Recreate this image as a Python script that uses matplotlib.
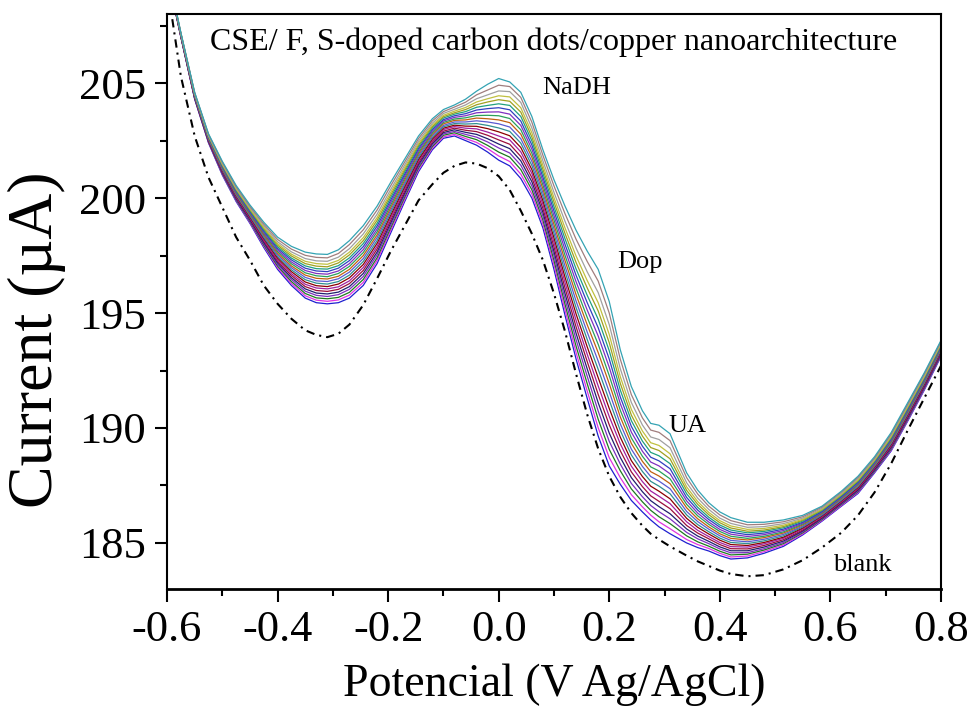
import matplotlib
matplotlib.use("Agg")
import matplotlib.pyplot as plt
from matplotlib.ticker import MultipleLocator

plt.rcParams['font.family'] = ['Liberation Serif', 'DejaVu Serif']
plt.rcParams['axes.unicode_minus'] = False

# potential grid (V vs Ag/AgCl)
potential = [-0.600, -0.575, -0.550, -0.525, -0.500, -0.475, -0.450, -0.425, -0.400, -0.375,
             -0.350, -0.330, -0.310, -0.290, -0.270, -0.245, -0.220, -0.195, -0.170, -0.145,
             -0.120, -0.100, -0.080, -0.060, -0.040, -0.020, 0.000, 0.020, 0.040, 0.060,
             0.080, 0.100, 0.120, 0.140, 0.160, 0.180, 0.200, 0.220, 0.240, 0.260,
             0.275, 0.290, 0.310, 0.340, 0.360, 0.380, 0.400, 0.420, 0.450, 0.480,
             0.515, 0.550, 0.585, 0.620, 0.650, 0.680, 0.710, 0.740, 0.770, 0.800]

# blank (dash-dot)
blank = [209.3, 205.3, 202.7, 200.9, 199.6, 198.3, 197.3, 196.2, 195.4, 194.75,
         194.25, 194.05, 193.95, 194.1, 194.5, 195.35, 196.5, 197.7, 198.8, 199.9,
         200.6, 201.1, 201.4, 201.55, 201.5, 201.3, 200.95, 200.35, 199.45, 198.45,
         197.3, 195.85, 194.2, 192.35, 190.6, 189.1, 187.9, 187.0, 186.3, 185.75,
         185.4, 185.15, 184.85, 184.45, 184.2, 184.0, 183.8, 183.65, 183.55, 183.6,
         183.85, 184.25, 184.8, 185.45, 186.2, 187.2, 188.45, 189.9, 191.3, 192.7]

# current after each addition, lowest to highest (uA)
c01 = [209.8, 207.0, 204.3, 202.4, 201.0, 199.85, 198.9, 197.85, 196.9, 196.2, 195.65, 195.45, 195.4, 195.45, 195.65, 196.2, 197.15, 198.5, 199.85, 201.15, 202.1, 202.6, 202.7, 202.5, 202.3, 202.0, 201.65, 201.4, 200.85, 200.0, 198.7, 196.9, 194.9, 193.0, 191.3, 189.65, 188.35, 187.55, 186.85, 186.35, 186.0, 185.7, 185.4, 185.0, 184.8, 184.65, 184.45, 184.3, 184.35, 184.55, 184.85, 185.35, 185.95, 186.6, 187.15, 188.05, 189.0, 190.3, 191.65, 193.1]
c02 = [209.81, 207.01, 204.32, 202.42, 201.03, 199.89, 198.94, 197.91, 196.97, 196.29, 195.75, 195.56, 195.51, 195.57, 195.78, 196.33, 197.28, 198.61, 199.94, 201.23, 202.17, 202.66, 202.77, 202.59, 202.42, 202.15, 201.83, 201.59, 201.04, 200.18, 198.87, 197.1, 195.14, 193.28, 191.62, 190.01, 188.71, 187.84, 187.1, 186.57, 186.21, 185.92, 185.62, 185.15, 184.93, 184.76, 184.55, 184.39, 184.43, 184.62, 184.91, 185.39, 185.98, 186.63, 187.19, 188.09, 189.04, 190.34, 191.69, 193.14]
c03 = [209.82, 207.02, 204.33, 202.44, 201.06, 199.92, 198.98, 197.96, 197.04, 196.37, 195.85, 195.66, 195.62, 195.68, 195.9, 196.46, 197.4, 198.72, 200.04, 201.31, 202.24, 202.73, 202.84, 202.68, 202.54, 202.29, 202.0, 201.78, 201.24, 200.36, 199.04, 197.29, 195.38, 193.56, 191.94, 190.38, 189.07, 188.14, 187.35, 186.79, 186.42, 186.14, 185.84, 185.31, 185.05, 184.86, 184.64, 184.48, 184.51, 184.69, 184.97, 185.44, 186.02, 186.67, 187.23, 188.12, 189.08, 190.38, 191.73, 193.17]
c04 = [209.83, 207.03, 204.35, 202.46, 201.09, 199.96, 199.02, 198.02, 197.11, 196.46, 195.95, 195.77, 195.72, 195.8, 196.03, 196.59, 197.53, 198.83, 200.13, 201.38, 202.3, 202.79, 202.9, 202.77, 202.65, 202.44, 202.18, 201.96, 201.43, 200.53, 199.21, 197.49, 195.61, 193.84, 192.26, 190.74, 189.42, 188.43, 187.59, 187.01, 186.63, 186.36, 186.05, 185.46, 185.18, 184.97, 184.74, 184.57, 184.58, 184.75, 185.02, 185.48, 186.05, 186.7, 187.26, 188.16, 189.12, 190.42, 191.76, 193.21]
c05 = [209.84, 207.04, 204.36, 202.48, 201.12, 199.99, 199.06, 198.07, 197.18, 196.54, 196.05, 195.87, 195.83, 195.91, 196.15, 196.72, 197.65, 198.94, 200.22, 201.46, 202.37, 202.85, 202.97, 202.86, 202.77, 202.58, 202.35, 202.15, 201.62, 200.71, 199.38, 197.68, 195.85, 194.12, 192.58, 191.1, 189.78, 188.72, 187.84, 187.23, 186.84, 186.58, 186.27, 185.61, 185.3, 185.07, 184.83, 184.66, 184.66, 184.82, 185.08, 185.52, 186.08, 186.73, 187.3, 188.19, 189.16, 190.46, 191.8, 193.24]
c06 = [209.85, 207.05, 204.38, 202.5, 201.15, 200.03, 199.1, 198.13, 197.25, 196.63, 196.15, 195.98, 195.94, 196.03, 196.28, 196.85, 197.78, 199.05, 200.31, 201.54, 202.44, 202.91, 203.04, 202.95, 202.89, 202.73, 202.53, 202.34, 201.81, 200.89, 199.55, 197.88, 196.09, 194.4, 192.9, 191.46, 190.14, 189.01, 188.09, 187.45, 187.05, 186.81, 186.49, 185.76, 185.43, 185.18, 184.93, 184.75, 184.74, 184.89, 185.14, 185.56, 186.11, 186.76, 187.34, 188.23, 189.2, 190.5, 191.84, 193.28]
c07 = [209.86, 207.06, 204.39, 202.52, 201.18, 200.06, 199.14, 198.18, 197.32, 196.71, 196.25, 196.09, 196.05, 196.14, 196.4, 196.98, 197.9, 199.16, 200.41, 201.62, 202.51, 202.98, 203.11, 203.04, 203.01, 202.87, 202.7, 202.53, 202.01, 201.07, 199.72, 198.07, 196.33, 194.68, 193.22, 191.83, 190.5, 189.31, 188.34, 187.67, 187.26, 187.03, 186.71, 185.92, 185.55, 185.28, 185.02, 184.84, 184.82, 184.96, 185.2, 185.61, 186.15, 186.8, 187.38, 188.26, 189.24, 190.54, 191.88, 193.31]
c08 = [209.87, 207.07, 204.41, 202.54, 201.21, 200.1, 199.18, 198.24, 197.39, 196.8, 196.35, 196.19, 196.15, 196.26, 196.53, 197.11, 198.03, 199.27, 200.5, 201.69, 202.57, 203.04, 203.17, 203.13, 203.12, 203.02, 202.88, 202.71, 202.2, 201.24, 199.89, 198.27, 196.56, 194.96, 193.54, 192.19, 190.85, 189.6, 188.58, 187.89, 187.47, 187.25, 186.92, 186.07, 185.68, 185.39, 185.12, 184.93, 184.89, 185.02, 185.25, 185.65, 186.18, 186.83, 187.41, 188.3, 189.28, 190.58, 191.91, 193.35]
c09 = [209.88, 207.08, 204.42, 202.56, 201.24, 200.13, 199.22, 198.29, 197.46, 196.88, 196.45, 196.3, 196.26, 196.37, 196.65, 197.24, 198.15, 199.38, 200.59, 201.77, 202.64, 203.1, 203.24, 203.22, 203.24, 203.16, 203.05, 202.9, 202.39, 201.42, 200.06, 198.46, 196.8, 195.24, 193.86, 192.55, 191.21, 189.89, 188.83, 188.11, 187.68, 187.47, 187.14, 186.22, 185.8, 185.49, 185.21, 185.02, 184.97, 185.09, 185.31, 185.69, 186.21, 186.86, 187.45, 188.33, 189.32, 190.62, 191.95, 193.38]
c10 = [209.89, 207.09, 204.44, 202.58, 201.27, 200.17, 199.26, 198.35, 197.53, 196.97, 196.55, 196.4, 196.37, 196.49, 196.78, 197.37, 198.28, 199.49, 200.68, 201.85, 202.71, 203.16, 203.31, 203.31, 203.36, 203.31, 203.23, 203.09, 202.58, 201.6, 200.23, 198.66, 197.04, 195.52, 194.18, 192.91, 191.57, 190.18, 189.08, 188.33, 187.89, 187.69, 187.36, 186.37, 185.93, 185.6, 185.31, 185.11, 185.05, 185.16, 185.37, 185.73, 186.24, 186.89, 187.49, 188.37, 189.36, 190.66, 191.99, 193.42]
c11 = [209.9, 207.1, 204.45, 202.6, 201.3, 200.2, 199.3, 198.4, 197.6, 197.05, 196.65, 196.51, 196.48, 196.6, 196.9, 197.5, 198.4, 199.6, 200.78, 201.93, 202.78, 203.23, 203.38, 203.4, 203.48, 203.45, 203.4, 203.28, 202.78, 201.78, 200.4, 198.85, 197.28, 195.8, 194.5, 193.28, 191.93, 190.48, 189.33, 188.55, 188.1, 187.91, 187.58, 186.53, 186.05, 185.7, 185.4, 185.2, 185.13, 185.23, 185.43, 185.78, 186.28, 186.93, 187.53, 188.4, 189.4, 190.7, 192.03, 193.45]
c12 = [209.91, 207.11, 204.47, 202.62, 201.33, 200.24, 199.34, 198.46, 197.67, 197.14, 196.75, 196.62, 196.58, 196.72, 197.03, 197.63, 198.53, 199.71, 200.87, 202.0, 202.84, 203.29, 203.44, 203.49, 203.59, 203.6, 203.58, 203.46, 202.97, 201.95, 200.57, 199.05, 197.51, 196.08, 194.82, 193.64, 192.28, 190.77, 189.57, 188.77, 188.31, 188.13, 187.79, 186.68, 186.18, 185.81, 185.5, 185.29, 185.2, 185.29, 185.48, 185.82, 186.31, 186.96, 187.56, 188.44, 189.44, 190.74, 192.06, 193.49]
c13 = [209.92, 207.12, 204.48, 202.64, 201.36, 200.27, 199.38, 198.51, 197.74, 197.22, 196.85, 196.72, 196.69, 196.83, 197.15, 197.76, 198.65, 199.82, 200.96, 202.08, 202.91, 203.35, 203.51, 203.58, 203.71, 203.74, 203.75, 203.65, 203.16, 202.13, 200.74, 199.24, 197.75, 196.36, 195.14, 194.0, 192.64, 191.06, 189.82, 188.99, 188.52, 188.35, 188.01, 186.83, 186.3, 185.91, 185.59, 185.38, 185.28, 185.36, 185.54, 185.86, 186.34, 186.99, 187.6, 188.47, 189.48, 190.78, 192.1, 193.52]
c14 = [209.93, 207.13, 204.5, 202.66, 201.39, 200.31, 199.42, 198.57, 197.81, 197.31, 196.95, 196.83, 196.8, 196.95, 197.28, 197.89, 198.78, 199.93, 201.05, 202.16, 202.98, 203.41, 203.58, 203.67, 203.83, 203.89, 203.93, 203.84, 203.35, 202.31, 200.91, 199.44, 197.99, 196.64, 195.46, 194.36, 193.0, 191.35, 190.07, 189.21, 188.73, 188.57, 188.23, 186.98, 186.43, 186.02, 185.69, 185.47, 185.36, 185.43, 185.6, 185.9, 186.37, 187.02, 187.64, 188.51, 189.52, 190.82, 192.14, 193.56]
c15 = [209.94, 207.14, 204.51, 202.68, 201.42, 200.34, 199.46, 198.62, 197.88, 197.39, 197.05, 196.93, 196.91, 197.06, 197.4, 198.02, 198.9, 200.04, 201.15, 202.24, 203.05, 203.48, 203.65, 203.76, 203.95, 204.03, 204.1, 204.03, 203.55, 202.49, 201.08, 199.63, 198.23, 196.92, 195.78, 194.73, 193.36, 191.65, 190.32, 189.43, 188.94, 188.79, 188.45, 187.14, 186.55, 186.12, 185.78, 185.56, 185.44, 185.5, 185.66, 185.95, 186.41, 187.06, 187.68, 188.54, 189.56, 190.86, 192.18, 193.59]
c16 = [209.95, 207.15, 204.53, 202.7, 201.45, 200.38, 199.5, 198.68, 197.95, 197.48, 197.15, 197.04, 197.01, 197.18, 197.53, 198.15, 199.03, 200.15, 201.24, 202.31, 203.11, 203.54, 203.71, 203.85, 204.06, 204.18, 204.28, 204.21, 203.74, 202.66, 201.25, 199.83, 198.46, 197.2, 196.1, 195.09, 193.71, 191.94, 190.56, 189.65, 189.15, 189.02, 188.66, 187.29, 186.68, 186.23, 185.88, 185.65, 185.51, 185.56, 185.71, 185.99, 186.44, 187.09, 187.71, 188.58, 189.6, 190.9, 192.21, 193.63]
c17 = [209.96, 207.16, 204.54, 202.72, 201.48, 200.41, 199.54, 198.73, 198.02, 197.56, 197.25, 197.15, 197.12, 197.29, 197.65, 198.28, 199.15, 200.26, 201.33, 202.39, 203.18, 203.6, 203.78, 203.94, 204.18, 204.32, 204.45, 204.4, 203.93, 202.84, 201.42, 200.02, 198.7, 197.48, 196.42, 195.45, 194.07, 192.23, 190.81, 189.87, 189.36, 189.24, 188.88, 187.44, 186.8, 186.33, 185.97, 185.74, 185.59, 185.63, 185.77, 186.03, 186.47, 187.12, 187.75, 188.61, 189.64, 190.94, 192.25, 193.66]
c18 = [209.97, 207.17, 204.56, 202.74, 201.52, 200.45, 199.59, 198.8, 198.1, 197.66, 197.37, 197.27, 197.25, 197.43, 197.8, 198.44, 199.3, 200.39, 201.44, 202.48, 203.26, 203.68, 203.86, 204.05, 204.32, 204.49, 204.66, 204.63, 204.16, 203.05, 201.62, 200.25, 198.99, 197.82, 196.8, 195.89, 194.5, 192.58, 191.11, 190.13, 189.61, 189.5, 189.14, 187.62, 186.95, 186.46, 186.08, 185.85, 185.68, 185.71, 185.84, 186.08, 186.51, 187.16, 187.8, 188.65, 189.69, 190.99, 192.3, 193.7]
c19 = [209.99, 207.19, 204.58, 202.77, 201.56, 200.5, 199.64, 198.87, 198.2, 197.78, 197.51, 197.42, 197.4, 197.59, 197.98, 198.62, 199.48, 200.55, 201.57, 202.59, 203.36, 203.76, 203.96, 204.17, 204.49, 204.7, 204.91, 204.85, 204.38, 203.3, 201.86, 200.53, 199.32, 198.21, 197.25, 196.39, 195.0, 192.99, 191.45, 190.44, 189.91, 189.81, 189.45, 187.84, 187.13, 186.6, 186.22, 185.97, 185.79, 185.81, 185.92, 186.14, 186.56, 187.21, 187.85, 188.7, 189.74, 191.04, 192.35, 193.75]
c20 = [210.0, 207.2, 204.6, 202.8, 201.6, 200.55, 199.7, 198.95, 198.3, 197.9, 197.65, 197.57, 197.55, 197.75, 198.15, 198.8, 199.65, 200.7, 201.7, 202.7, 203.45, 203.85, 204.05, 204.3, 204.65, 204.95, 205.2, 205.05, 204.6, 203.55, 202.1, 200.8, 199.65, 198.6, 197.7, 196.9, 195.5, 193.4, 191.8, 190.75, 190.2, 190.12, 189.75, 188.05, 187.3, 186.75, 186.35, 186.1, 185.9, 185.9, 186.0, 186.2, 186.6, 187.25, 187.9, 188.75, 189.8, 191.1, 192.4, 193.8]

curves = [c01, c02, c03, c04, c05, c06, c07, c08, c09, c10,
          c11, c12, c13, c14, c15, c16, c17, c18, c19, c20]
colors = ['#1f1fd0', '#e033e0', '#1e7a1e', '#7b2fbf', '#20206e', '#9a0f3c', '#a020a0',
          '#8b0000', '#2f8f8f', '#5a5ad0', '#c06010', '#2aa05a', '#8030c0', '#3040c0',
          '#20a080', '#a0a020', '#c0c040', '#a0a0a0', '#a07d7d', '#34a3b3']

fig = plt.figure(figsize=(9.74, 7.07), dpi=100)
ax = fig.add_axes([0.1715, 0.167, 0.7945, 0.813])

ax.plot(potential, blank, color='black', lw=1.5, linestyle=(0, (4, 2.4, 1, 2.4)))
for c, col in zip(curves, colors):
    ax.plot(potential, c, color=col, lw=0.9)

ax.set_xlim(-0.6, 0.8)
ax.set_ylim(183, 208)
ax.set_xticks([-0.6, -0.4, -0.2, 0.0, 0.2, 0.4, 0.6, 0.8])
ax.set_xticklabels(['-0.6', '-0.4', '-0.2', '0.0', '0.2', '0.4', '0.6', '0.8'])
ax.xaxis.set_minor_locator(MultipleLocator(0.1))
ax.yaxis.set_major_locator(MultipleLocator(5))
ax.yaxis.set_minor_locator(MultipleLocator(2.5))

ax.tick_params(which='major', direction='out', length=9, width=1.5, labelsize=32, pad=6)
ax.tick_params(which='minor', direction='out', length=5, width=1.5)
for s in ax.spines.values():
    s.set_linewidth(1.5)
ax.spines['bottom'].set_linewidth(2)

ax.set_xlabel('Potencial (V Ag/AgCl)', fontsize=33, labelpad=10)
ax.set_ylabel('Current (\u00b5A)', fontsize=46, va='center')
ax.yaxis.set_label_coords(-0.168, 0.433)

ax.text(0.5, 0.951, 'CSE/ F, S-doped carbon dots/copper nanoarchitecture',
        transform=ax.transAxes, ha='center', va='center', fontsize=23)
ax.text(0.141, 204.78, 'NaDH', ha='center', va='center', fontsize=19)
ax.text(0.255, 197.22, 'Dop', ha='center', va='center', fontsize=19)
ax.text(0.342, 190.09, 'UA', ha='center', va='center', fontsize=19)
ax.text(0.657, 184.04, 'blank', ha='center', va='center', fontsize=19)

fig.savefig('out.png', dpi=100)
